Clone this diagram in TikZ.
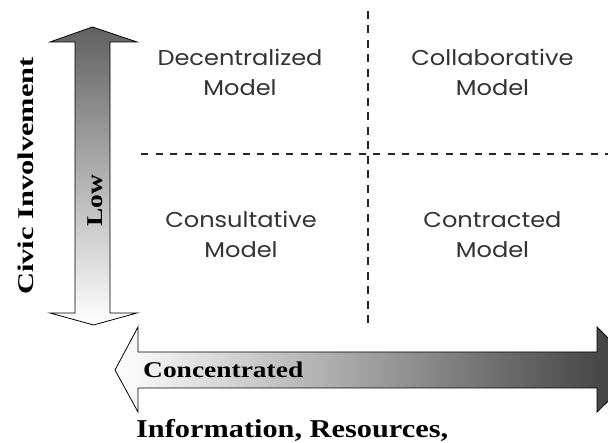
\documentclass[tikz,border=0pt]{standalone}
\usepackage{fontspec}
\setmainfont{Liberation Serif}
\newfontfamily\modelfont[FakeStretch=1.12]{Poppins}
\begin{document}
\begin{tikzpicture}[x=1pt,y=-1pt,
  axislabel/.style={font=\bfseries\fontsize{22.5}{24}\selectfont, inner sep=0pt},
  model/.style={font=\modelfont\fontsize{21.5}{30}\selectfont, text=black!80, align=center, inner sep=0pt},
  divider/.style={line width=1.1pt, black!85},
  arrowbody/.style={draw=black, line width=0.8pt, line join=miter}]
\useasboundingbox (0,0) rectangle (608,443);
\clip (0,0) rectangle (608,443);

% vertical double arrow: civic involvement
\shadedraw[arrowbody, top color=black!62, bottom color=white]
  (92.5,27) -- (137,42) -- (110,42) -- (110,313) -- (137,313) -- (93.5,325)
  -- (50,313) -- (75,313) -- (75,42) -- (50,42) -- cycle;

% horizontal double arrow: information, resources
\shadedraw[arrowbody, left color=white, right color=black!78]
  (115,370) -- (138,327) -- (138,352) -- (597,352) -- (597,327) -- (640,370)
  -- (597,412) -- (597,388) -- (138,388) -- (138,412) -- cycle;

% quadrant dividers
\coordinate (vtop) at (368,11);
\coordinate (vbot) at (368,328);
\coordinate (hleft) at (141,154);
\coordinate (hright) at (608,154);
\draw[divider, dash pattern=on 8pt off 6.5pt] (vtop) -- (vbot);
\draw[divider, dash pattern=on 7pt off 7.5pt] (hleft) -- (hright);

% quadrant labels
\node[model] (decentral) at (240,72.5) {Decentralized\\Model};
\node[model] (collab) at (492.5,72.5) {Collaborative\\Model};
\node[model] (consult) at (241,234.5) {Consultative\\Model};
\node[model] (contract) at (492.5,234.5) {Contracted\\Model};

% axis labels
\node[axislabel, rotate=90, anchor=base] (civic) at (33,176) {\scalebox{1.355}[1]{Civic Involvement}};
\node[axislabel, rotate=90, anchor=base] (low) at (102,201) {\scalebox{1.22}[1]{Low}};
\node[axislabel, anchor=base west] (conc) at (143,377.5) {\scalebox{1.22}[1]{Concentrated}};
\node[axislabel, font=\bfseries\fontsize{25.7}{28}\selectfont, anchor=base west] (info) at (136,438)
  {\scalebox{1.18}[1]{Information, Resources,}};
\end{tikzpicture}
\end{document}
